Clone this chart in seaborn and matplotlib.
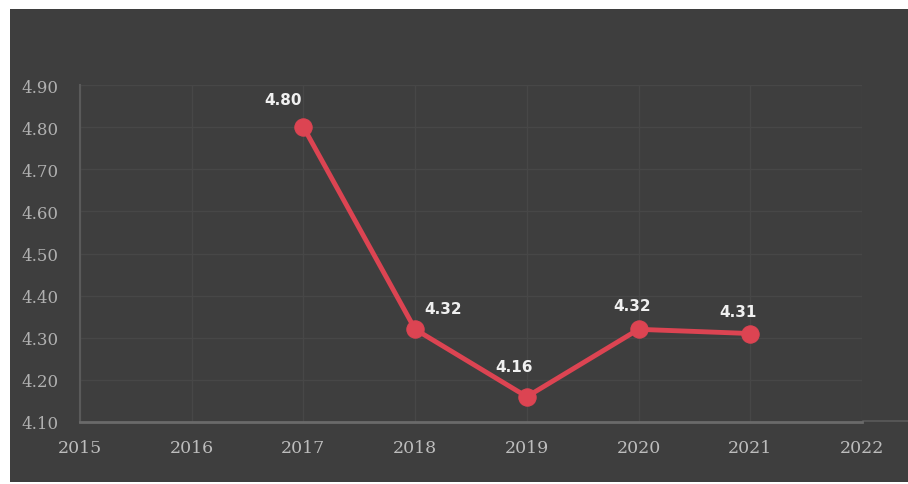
import pandas as pd
import matplotlib
matplotlib.use("Agg")
import matplotlib.pyplot as plt
import seaborn as sns
from matplotlib.patches import Rectangle

# valores
anos = [2017, 2018, 2019, 2020, 2021]
valores = [4.80, 4.32, 4.16, 4.32, 4.31]
rotulos = ["4.80", "4.32", "4.16", "4.32", "4.31"]
anos_eixo = [2015, 2016, 2017, 2018, 2019, 2020, 2021, 2022]
ticks_y = [4.10, 4.20, 4.30, 4.40, 4.50, 4.60, 4.70, 4.80, 4.90]

# deslocamento dos rótulos (pontos), como na foto
desloc = [(-15, 20), (20, 15), (-9, 22), (-5, 17), (-9, 16)]

df = pd.DataFrame({"ano": anos, "valor": valores})

fundo = "#3e3e3e"
vermelho = "#dc4452"

sns.set_style("dark")
fig = plt.figure(figsize=(9.08, 4.85), dpi=100)
fig.patch.set_facecolor("white")

# fundo escuro da foto, com a borda branca
bg = fig.add_axes([0, 0, 1, 1], zorder=-1)
bg.set_xlim(0, 908)
bg.set_ylim(0, 485)
bg.axis("off")
bg.add_patch(Rectangle((10, 2), 898, 473, facecolor=fundo, edgecolor="none"))
# linha clara de baixo que sai do eixo
bg.plot([863, 908], [63, 63], color="#555555", linewidth=1.5)

ax = fig.add_axes([80 / 908, 1 - 423 / 485, 782 / 908, 337 / 485])
ax.set_facecolor(fundo)

sns.lineplot(data=df, x="ano", y="valor", ax=ax, color=vermelho,
             linewidth=3.5, marker="o", markersize=12.5,
             markeredgecolor=vermelho, zorder=3)

for a, v, r, d in zip(anos, valores, rotulos, desloc):
    ax.annotate(r, (a, v), xytext=d, textcoords="offset points",
                ha="center", va="center", color="#f0f0f0",
                fontsize=11, fontweight="bold")

ax.set_xlim(2015, 2022)
ax.set_ylim(4.10, 4.90)
ax.set_xticks(anos_eixo)
ax.set_yticks(ticks_y)
ax.set_xticklabels([str(a) for a in anos_eixo], family="DejaVu Serif",
                   fontsize=12.5, color="#bdbdbd")
ax.set_yticklabels([f"{t:.2f}" for t in ticks_y], family="DejaVu Serif",
                   fontsize=12, color="#b0b0b0", ha="left")
ax.tick_params(axis="y", length=0, pad=42)
ax.tick_params(axis="x", length=0, pad=12)

ax.grid(True, color="#474747", linewidth=1)
for lado in ["top", "right"]:
    ax.spines[lado].set_visible(False)
ax.spines["left"].set_color("#5a5a5a")
ax.spines["bottom"].set_color("#6a6a6a")
ax.spines["left"].set_linewidth(1.5)
ax.spines["bottom"].set_linewidth(2)

ax.set_xlabel("")
ax.set_ylabel("")

plt.savefig("out.png", dpi=100, facecolor=fig.get_facecolor())
